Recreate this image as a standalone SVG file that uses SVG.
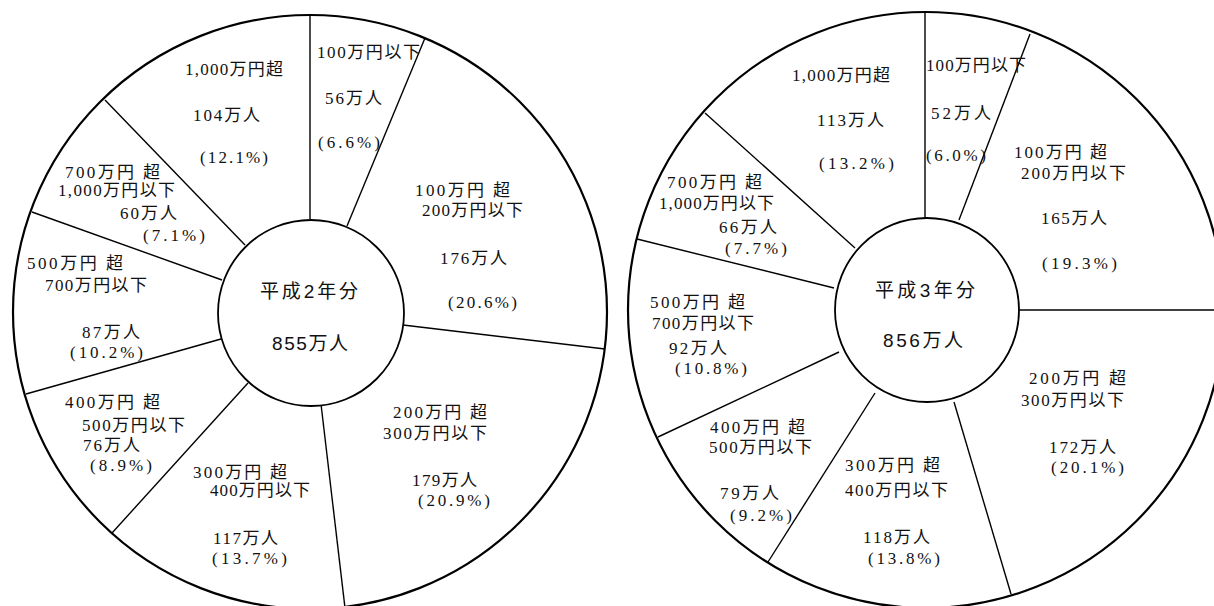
<svg xmlns="http://www.w3.org/2000/svg" width="1214" height="606" viewBox="0 0 1214 606">
<style>
.outer{fill:none;stroke:#000;stroke-width:2.2}
.inner{fill:#fff;stroke:#000;stroke-width:1.8}
.rad{stroke:#000;stroke-width:1.4;fill:none}
text{font-family:"Liberation Serif","Noto Sans CJK JP",serif;font-size:17px;fill:#111}
.c{font-family:"Liberation Sans","Noto Sans CJK JP",sans-serif;font-size:19px}
</style>
<rect width="1214" height="606" fill="#fff"/>
<g id="pie-h2-frame">
<circle class="outer" cx="310" cy="312" r="297"/>
</g>
<g id="pie-h3-frame">
<circle class="outer" cx="926" cy="310" r="298"/>
</g>
<g id="connectors">
<line class="rad" x1="310" y1="219" x2="310" y2="15"/>
<line class="rad" x1="347" y1="226" x2="425" y2="38"/>
<line class="rad" x1="403" y1="325" x2="605" y2="349"/>
<line class="rad" x1="321" y1="404" x2="345" y2="608"/>
<line class="rad" x1="248" y1="383" x2="112" y2="533"/>
<line class="rad" x1="221" y1="339" x2="26" y2="394"/>
<line class="rad" x1="222" y1="280" x2="32" y2="212"/>
<line class="rad" x1="245" y1="245" x2="105" y2="100"/>
<line class="rad" x1="925" y1="218" x2="925" y2="12"/>
<line class="rad" x1="959" y1="220" x2="1030" y2="34"/>
<line class="rad" x1="1018" y1="310" x2="1214" y2="310"/>
<line class="rad" x1="954" y1="402" x2="1011" y2="594"/>
<line class="rad" x1="875" y1="393" x2="768" y2="562"/>
<line class="rad" x1="839" y1="352" x2="658" y2="437"/>
<line class="rad" x1="834" y1="288" x2="637" y2="239"/>
<line class="rad" x1="855" y1="248" x2="705" y2="113"/>
</g>
<g id="center-h2">
<circle class="inner" cx="311" cy="313" r="93"/>
<text class="c" x="260" y="298" textLength="98" lengthAdjust="spacing">平成2年分</text>
<text class="c" x="272" y="350" textLength="76" lengthAdjust="spacing">855万人</text>
</g>
<g id="center-h3">
<circle class="inner" cx="927" cy="310" r="92"/>
<text class="c" x="875" y="297" textLength="100" lengthAdjust="spacing">平成3年分</text>
<text class="c" x="883" y="347" textLength="80" lengthAdjust="spacing">856万人</text>
</g>
<g id="h2-s1">
<text x="317" y="58" textLength="103" lengthAdjust="spacing">100万円以下</text>
<text x="325" y="104" textLength="57" lengthAdjust="spacing">56万人</text>
<text x="318" y="148" textLength="62" lengthAdjust="spacing">(6.6%)</text>
</g>
<g id="h2-s2">
<text x="415" y="196" textLength="95" lengthAdjust="spacing">100万円 超</text>
<text x="422" y="216" textLength="101" lengthAdjust="spacing">200万円以下</text>
<text x="440" y="264" textLength="67" lengthAdjust="spacing">176万人</text>
<text x="448" y="308" textLength="69" lengthAdjust="spacing">(20.6%)</text>
</g>
<g id="h2-s3">
<text x="393" y="418" textLength="94" lengthAdjust="spacing">200万円 超</text>
<text x="383" y="439" textLength="104" lengthAdjust="spacing">300万円以下</text>
<text x="412" y="486" textLength="65" lengthAdjust="spacing">179万人</text>
<text x="418" y="506" textLength="72" lengthAdjust="spacing">(20.9%)</text>
</g>
<g id="h2-s4">
<text x="193" y="478" textLength="94" lengthAdjust="spacing">300万円 超</text>
<text x="210" y="496" textLength="100" lengthAdjust="spacing">400万円以下</text>
<text x="213" y="544" textLength="65" lengthAdjust="spacing">117万人</text>
<text x="212" y="564" textLength="75" lengthAdjust="spacing">(13.7%)</text>
</g>
<g id="h2-s5">
<text x="65" y="408" textLength="95" lengthAdjust="spacing">400万円 超</text>
<text x="82" y="431" textLength="103" lengthAdjust="spacing">500万円以下</text>
<text x="83" y="451" textLength="57" lengthAdjust="spacing">76万人</text>
<text x="90" y="471" textLength="62" lengthAdjust="spacing">(8.9%)</text>
</g>
<g id="h2-s6">
<text x="27" y="269" textLength="96" lengthAdjust="spacing">500万円 超</text>
<text x="45" y="291" textLength="102" lengthAdjust="spacing">700万円以下</text>
<text x="82" y="338" textLength="58" lengthAdjust="spacing">87万人</text>
<text x="70" y="358" textLength="73" lengthAdjust="spacing">(10.2%)</text>
</g>
<g id="h2-s7">
<text x="65" y="178" textLength="95" lengthAdjust="spacing">700万円 超</text>
<text x="58" y="196" textLength="117" lengthAdjust="spacing">1,000万円以下</text>
<text x="120" y="219" textLength="57" lengthAdjust="spacing">60万人</text>
<text x="143" y="241" textLength="62" lengthAdjust="spacing">(7.1%)</text>
</g>
<g id="h2-s8">
<text x="185" y="75" textLength="98" lengthAdjust="spacing">1,000万円超</text>
<text x="193" y="121" textLength="67" lengthAdjust="spacing">104万人</text>
<text x="200" y="163" textLength="68" lengthAdjust="spacing">(12.1%)</text>
</g>
<g id="h3-s1">
<text x="926" y="71" textLength="100" lengthAdjust="spacing">100万円以下</text>
<text x="931" y="119" textLength="60" lengthAdjust="spacing">52万人</text>
<text x="926" y="161" textLength="60" lengthAdjust="spacing">(6.0%)</text>
</g>
<g id="h3-s2">
<text x="1014" y="158" textLength="93" lengthAdjust="spacing">100万円 超</text>
<text x="1021" y="179" textLength="105" lengthAdjust="spacing">200万円以下</text>
<text x="1041" y="224" textLength="66" lengthAdjust="spacing">165万人</text>
<text x="1042" y="269" textLength="75" lengthAdjust="spacing">(19.3%)</text>
</g>
<g id="h3-s3">
<text x="1029" y="384" textLength="97" lengthAdjust="spacing">200万円 超</text>
<text x="1021" y="406" textLength="103" lengthAdjust="spacing">300万円以下</text>
<text x="1049" y="453" textLength="67" lengthAdjust="spacing">172万人</text>
<text x="1051" y="473" textLength="73" lengthAdjust="spacing">(20.1%)</text>
</g>
<g id="h3-s4">
<text x="845" y="471" textLength="95" lengthAdjust="spacing">300万円 超</text>
<text x="845" y="496" textLength="103" lengthAdjust="spacing">400万円以下</text>
<text x="863" y="543" textLength="67" lengthAdjust="spacing">118万人</text>
<text x="868" y="564" textLength="72" lengthAdjust="spacing">(13.8%)</text>
</g>
<g id="h3-s5">
<text x="710" y="433" textLength="95" lengthAdjust="spacing">400万円 超</text>
<text x="709" y="453" textLength="103" lengthAdjust="spacing">500万円以下</text>
<text x="720" y="499" textLength="59" lengthAdjust="spacing">79万人</text>
<text x="730" y="521" textLength="62" lengthAdjust="spacing">(9.2%)</text>
</g>
<g id="h3-s6">
<text x="650" y="308" textLength="95" lengthAdjust="spacing">500万円 超</text>
<text x="652" y="329" textLength="102" lengthAdjust="spacing">700万円以下</text>
<text x="669" y="354" textLength="58" lengthAdjust="spacing">92万人</text>
<text x="675" y="374" textLength="72" lengthAdjust="spacing">(10.8%)</text>
</g>
<g id="h3-s7">
<text x="667" y="188" textLength="95" lengthAdjust="spacing">700万円 超</text>
<text x="659" y="209" textLength="115" lengthAdjust="spacing">1,000万円以下</text>
<text x="719" y="233" textLength="58" lengthAdjust="spacing">66万人</text>
<text x="725" y="254" textLength="62" lengthAdjust="spacing">(7.7%)</text>
</g>
<g id="h3-s8">
<text x="792" y="81" textLength="98" lengthAdjust="spacing">1,000万円超</text>
<text x="817" y="126" textLength="67" lengthAdjust="spacing">113万人</text>
<text x="819" y="169" textLength="75" lengthAdjust="spacing">(13.2%)</text>
</g>
</svg>
